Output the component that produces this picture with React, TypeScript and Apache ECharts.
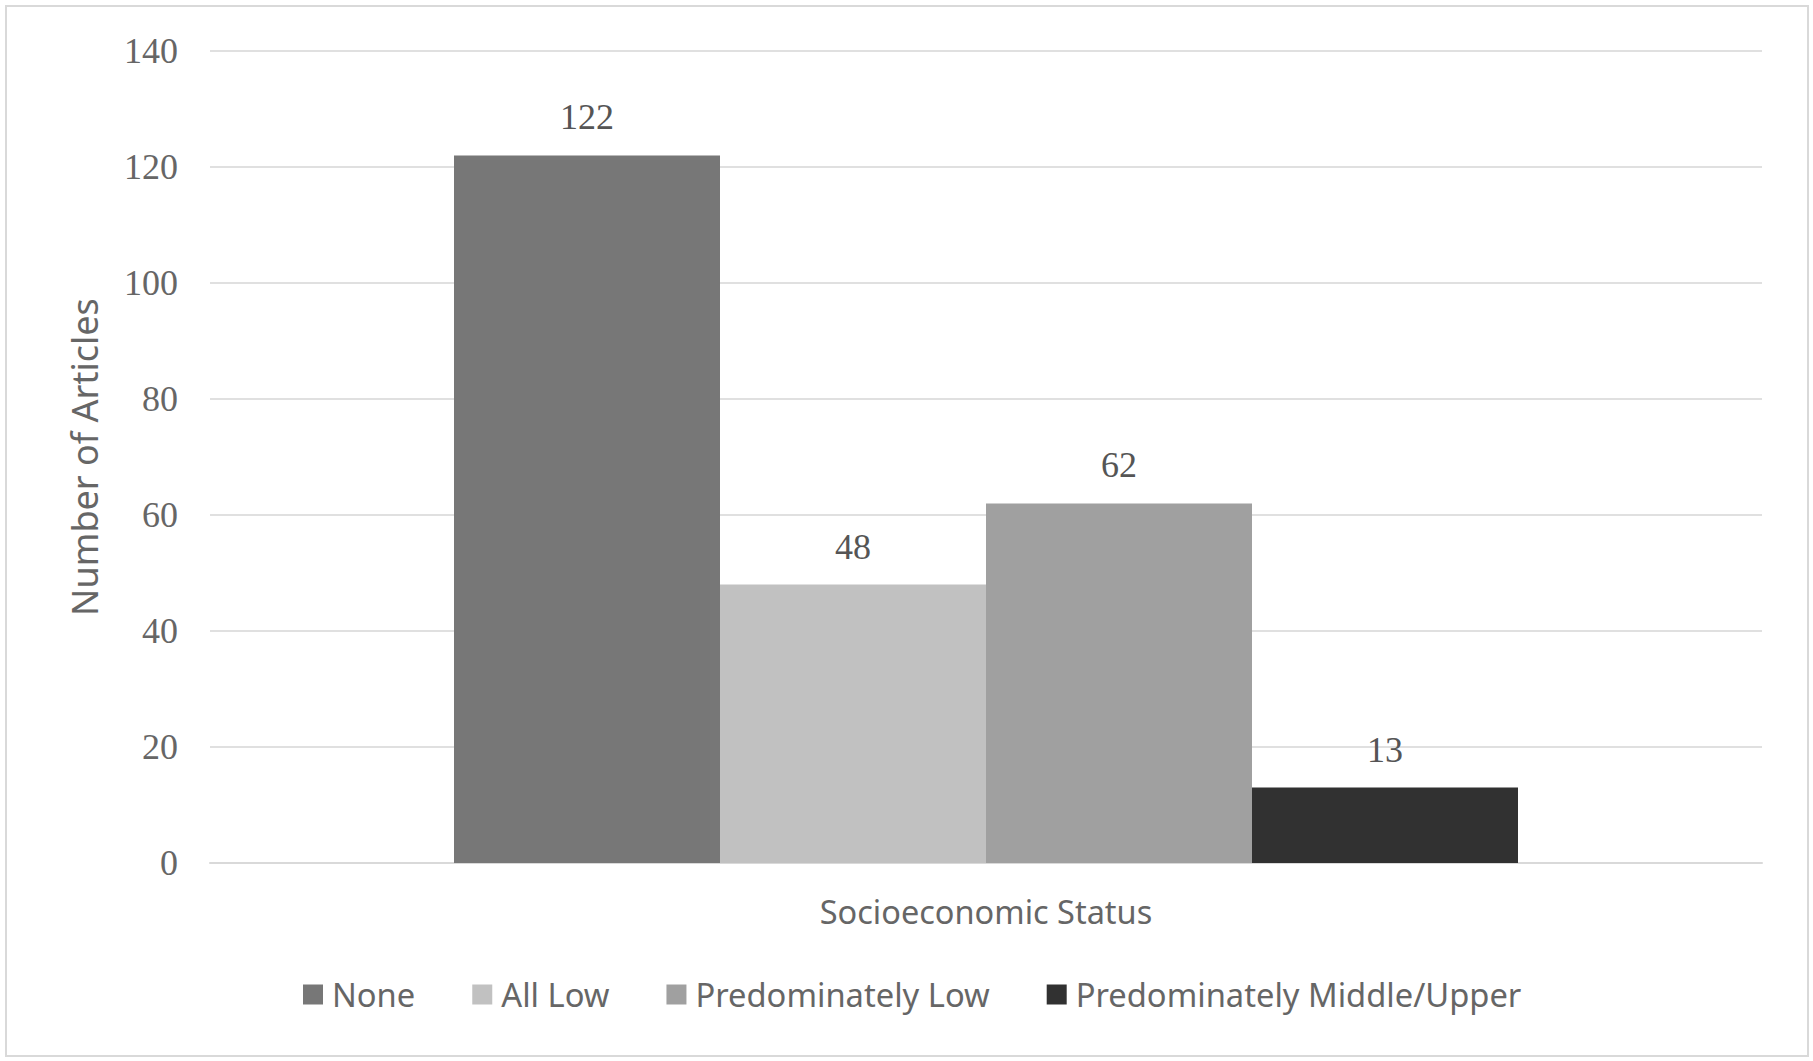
import React, { useEffect, useRef } from "react";
import * as echarts from "echarts";

const categories = ["Socioeconomic Status"];
const seriesNames = ["None", "All Low", "Predominately Low", "Predominately Middle/Upper"];
const noneValues = [122];
const allLowValues = [48];
const predLowValues = [62];
const predMidUpperValues = [13];
const seriesColors = ["#777777", "#c1c1c1", "#a0a0a0", "#313131"];

export default function App() {
  const ref = useRef<HTMLDivElement>(null);
  useEffect(() => {
    if (!ref.current) return;
    const chart = echarts.init(ref.current, null, { renderer: "svg" });
    const values = [noneValues, allLowValues, predLowValues, predMidUpperValues];
    chart.setOption({
      animation: false,
      backgroundColor: "#ffffff",
      graphic: [
        {
          type: "rect",
          shape: { x: 6, y: 6, width: 1802, height: 1050 },
          style: { fill: "none", stroke: "#d9d9d9", lineWidth: 2 },
          silent: true,
        },
      ],
      grid: { left: 210, right: 51, top: 51, bottom: 198, containLabel: false },
      legend: {
        data: seriesNames,
        left: 298,
        top: 973,
        itemWidth: 20,
        itemHeight: 20,
        itemGap: 57,
        icon: "rect",
        textStyle: { fontFamily: "Noto Sans", fontSize: 32.7, color: "#666666", padding: [0, 0, 0, 4] },
      },
      xAxis: {
        type: "category",
        data: categories,
        axisLine: { show: true, lineStyle: { color: "#d9d9d9", width: 2 } },
        axisTick: { show: false },
        axisLabel: { margin: 32, fontFamily: "Noto Sans", fontSize: 32.5, color: "#666666" },
      },
      yAxis: {
        type: "value",
        min: 0,
        max: 140,
        interval: 20,
        name: "Number of Articles",
        nameLocation: "middle",
        nameGap: 108,
        nameRotate: 90,
        nameTextStyle: { fontFamily: "Noto Sans", fontSize: 36, color: "#666666" },
        axisLine: { show: false },
        axisTick: { show: false },
        axisLabel: { margin: 32, fontFamily: "Liberation Serif", fontSize: 36, color: "#666666" },
        splitLine: { lineStyle: { color: "#e0e0e0", width: 2 } },
      },
      series: seriesNames.map((name, i) => ({
        name,
        type: "bar",
        data: values[i],
        barWidth: 266,
        barGap: "0%",
        itemStyle: { color: seriesColors[i] },
        label: {
          show: true,
          position: "top",
          distance: 20,
          fontFamily: "Liberation Serif",
          fontSize: 36,
          color: "#555555",
        },
      })),
    });
    return () => chart.dispose();
  }, []);
  return (
    <div
      ref={ref}
      style={{ position: "fixed", left: 0, top: 0, width: 1813, height: 1061 }}
    />
  );
}
